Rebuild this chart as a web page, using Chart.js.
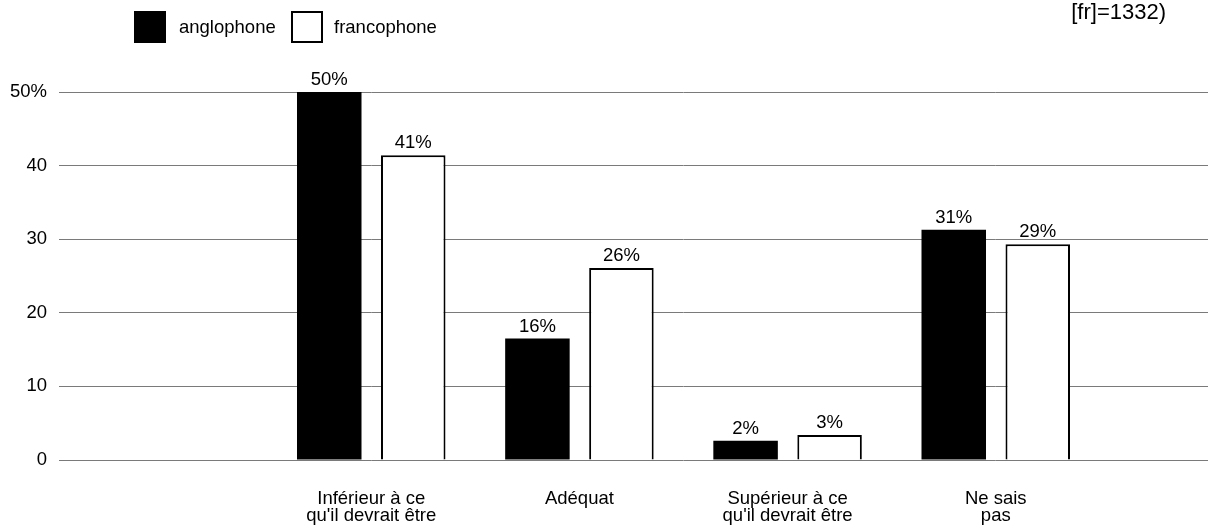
<!DOCTYPE html>
<html>
<head>
<meta charset="utf-8">
<script src="https://cdn.jsdelivr.net/npm/chart.js@4/dist/chart.umd.min.js"></script>
<style>
  html, body { margin: 0; padding: 0; background: #fff; }
  #wrap { width: 1208px; height: 529px; overflow: hidden; position: relative; }
  canvas { display: block; }
</style>
</head>
<body>
<div id="wrap"><canvas id="c" width="1308" height="529"></canvas></div>
<script>
// ---- data ----
const categories = [
  '',
  ['Inférieur à ce', "qu'il devrait être"],
  'Adéquat',
  ['Supérieur à ce', "qu'il devrait être"],
  ['Ne sais', 'pas'],
  ''
];
const anglophoneValues = [null, 50, 16.5, 2.6, 31.3, null];
const francophoneValues = [null, 41.4, 26.1, 3.4, 29.3, null];
const anglophoneLabels = ['', '50%', '16%', '2%', '31%', ''];
const francophoneLabels = ['', '41%', '26%', '3%', '29%', ''];
const seriesNames = ['anglophone', 'francophone'];
const yTicks = [0, 10, 20, 30, 40, 50];
const yTickLabels = ['0', '10', '20', '30', '40', '50%'];
const noteText = '[fr]=1332)';

const FONT = '"Liberation Sans", Arial, Helvetica, sans-serif';
const FS = 18.5;

const barLabelPlugin = {
  id: 'barLabels',
  afterDatasetsDraw(chart) {
    const ctx = chart.ctx;
    const lbls = [anglophoneLabels, francophoneLabels];
    ctx.save();
    ctx.font = FS + 'px ' + FONT;
    ctx.fillStyle = '#000';
    ctx.textAlign = 'center';
    ctx.textBaseline = 'alphabetic';
    chart.data.datasets.forEach((ds, di) => {
      const meta = chart.getDatasetMeta(di);
      meta.data.forEach((bar, i) => {
        const t = lbls[di][i];
        if (!t) return;
        ctx.fillText(t, bar.x, bar.y - 7);
      });
    });
    ctx.restore();
  }
};

const legendPlugin = {
  id: 'customLegend',
  afterDraw(chart) {
    const ctx = chart.ctx;
    ctx.save();
    ctx.font = FS + 'px ' + FONT;
    ctx.textBaseline = 'middle';
    ctx.textAlign = 'left';
    const items = [
      { box: 134, text: 179 },
      { box: 291, text: 334 }
    ];
    chart.data.datasets.forEach((ds, di) => {
      const it = items[di];
      ctx.fillStyle = ds.backgroundColor;
      ctx.fillRect(it.box, 11, 32, 32);
      if (ds.borderWidth) {
        ctx.strokeStyle = '#000';
        ctx.lineWidth = 2;
        ctx.strokeRect(it.box + 1, 12, 30, 30);
      }
      ctx.fillStyle = '#000';
      ctx.fillText(ds.label, it.text, 28);
    });
    // note text
    ctx.font = '22px ' + FONT;
    ctx.textAlign = 'right';
    ctx.fillText(noteText, 1166, 13);
    ctx.restore();
  }
};

new Chart(document.getElementById('c'), {
  type: 'bar',
  data: {
    labels: categories,
    datasets: [
      {
        label: seriesNames[0],
        data: anglophoneValues,
        backgroundColor: '#000000',
        borderWidth: 0
      },
      {
        label: seriesNames[1],
        data: francophoneValues,
        backgroundColor: '#ffffff',
        borderColor: '#000000',
        borderWidth: 2
      }
    ]
  },
  options: {
    responsive: false,
    animation: false,
    events: [],
    layout: { padding: { top: 92, right: 0, bottom: 0, left: 0 } },
    plugins: {
      legend: { display: false },
      tooltip: { enabled: false },
      title: { display: false }
    },
    datasets: {
      bar: { categoryPercentage: 0.807, barPercentage: 0.768 }
    },
    scales: {
      x: {
        grid: { display: false, drawTicks: false },
        border: { display: false },
        ticks: {
          color: '#000',
          font: { family: FONT, size: FS, lineHeight: 0.92 },
          padding: 30,
          maxRotation: 0,
          autoSkip: false
        },
        afterFit(scale) { scale.height = 69; }
      },
      y: {
        min: 0,
        max: 50,
        afterBuildTicks(scale) { scale.ticks = yTicks.map(v => ({ value: v })); },
        grid: { color: '#7a7a7a', lineWidth: 1, drawTicks: false },
        border: { display: false },
        ticks: {
          color: '#000',
          font: { family: FONT, size: FS },
          padding: 12,
          callback(value) { return yTickLabels[yTicks.indexOf(value)]; }
        },
        afterFit(scale) { scale.width = 59; }
      }
    }
  },
  plugins: [barLabelPlugin, legendPlugin]
});
</script>
</body>
</html>
